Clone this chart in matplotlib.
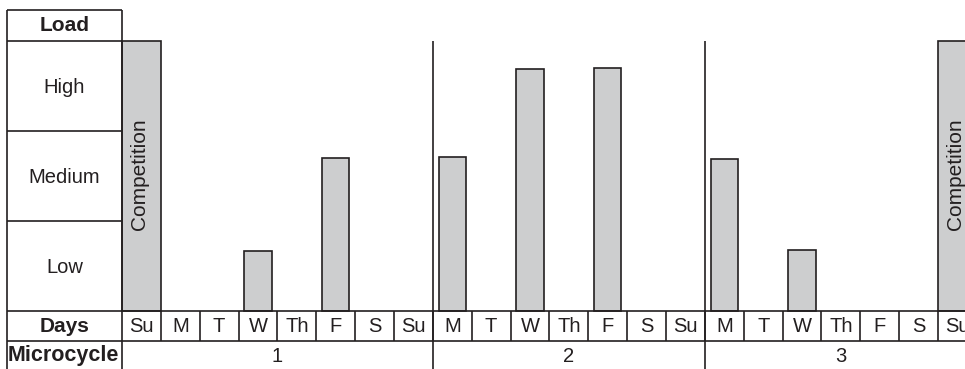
# microcycle load chart: load per day over three microcycles, with a table underneath
import matplotlib.pyplot as plt

plt.rcParams['font.family'] = ['Liberation Sans', 'DejaVu Sans']

days = ["Su", "M", "T", "W", "Th", "F", "S",
        "Su", "M", "T", "W", "Th", "F", "S",
        "Su", "M", "T", "W", "Th", "F", "S", "Su"]
load = [3.0, 0, 0, 0.67, 0, 1.70, 0,
        0, 1.71, 0, 2.69, 0, 2.70, 0,
        0, 1.69, 0, 0.68, 0, 0, 0, 3.0]
competition_days = [0, 21]
load_levels = ["Low", "Medium", "High"]
microcycles = ["1", "2", "3"]
microcycle_start = [0, 8, 15]

LINE = '#231f20'
FILL = '#cdcecf'
LW = 1.2
FS = 14.5

fig = plt.figure(figsize=(9.65, 3.69), dpi=100)
# chart area: days along x (one unit per day), load levels along y (one unit per level)
ax = fig.add_axes([122 / 965, 58 / 369, 843 / 965, 270 / 369])
ax.set_xlim(0, 843 / 38.86)
ax.set_ylim(0, 3)
ax.axis('off')

n = len(days)
x_left = -115 / 38.86      # left edge of the label column
y_top = 3 + 31 / 90        # top of the "Load" header
y_days = -30 / 90          # bottom of the days row
y_bot = -0.75              # below the figure edge

# bars
for i, v in enumerate(load):
    if v <= 0:
        continue
    comp = i in competition_days
    w = 1.0 if comp else 0.7
    ax.bar(i + 0.5, v, width=w, color=FILL, edgecolor=LINE, linewidth=LW,
           zorder=2, clip_on=False)
    if comp:
        ax.text(i + 0.45, 1.52, "Competition", rotation=90, ha='center', va='center',
                fontsize=FS + 0.5, color=LINE, clip_on=False)

def hline(y, x0, x1):
    ax.plot([x0, x1], [y, y], color=LINE, lw=LW, clip_on=False, solid_capstyle='butt')

def vline(x, y0, y1):
    ax.plot([x, x], [y0, y1], color=LINE, lw=LW, clip_on=False, solid_capstyle='butt')

# label column grid
hline(y_top, x_left, 0)
for k in range(4):
    hline(k, x_left, 0 if k else n)
hline(y_days, x_left, n)
vline(x_left, y_bot, y_top)
vline(0, y_bot, y_top)

# day cells
for i in range(1, n):
    vline(i, y_days, 0)

# microcycle separators
for s in microcycle_start[1:]:
    vline(s, y_bot, 3)

# label column text
xc = x_left / 2
ax.text(xc, (3 + y_top) / 2, "Load", ha='center', va='center', fontsize=FS + 0.5,
        fontweight='bold', color=LINE, clip_on=False)
for k, lab in enumerate(load_levels):
    ax.text(xc, k + 0.48, lab, ha='center', va='center', fontsize=FS,
            color=LINE, clip_on=False)
ax.text(xc, y_days / 2, "Days", ha='center', va='center', fontsize=FS + 0.5,
        fontweight='bold', color=LINE, clip_on=False)
ax.text(xc - 0.03, -0.5, "Microcycle", ha='center', va='center', fontsize=FS + 1,
        fontweight='bold', color=LINE, clip_on=False)

# day labels
for i, d in enumerate(days):
    ax.text(i + 0.5, y_days / 2, d, ha='center', va='center', fontsize=FS,
            color=LINE, clip_on=False)

# microcycle labels
ends = microcycle_start[1:] + [n]
for lab, s, e in zip(microcycles, microcycle_start, ends):
    ax.text((s + e) / 2, -0.5, lab, ha='center', va='center', fontsize=FS,
            color=LINE, clip_on=False)

fig.savefig("out.png", dpi=100)
